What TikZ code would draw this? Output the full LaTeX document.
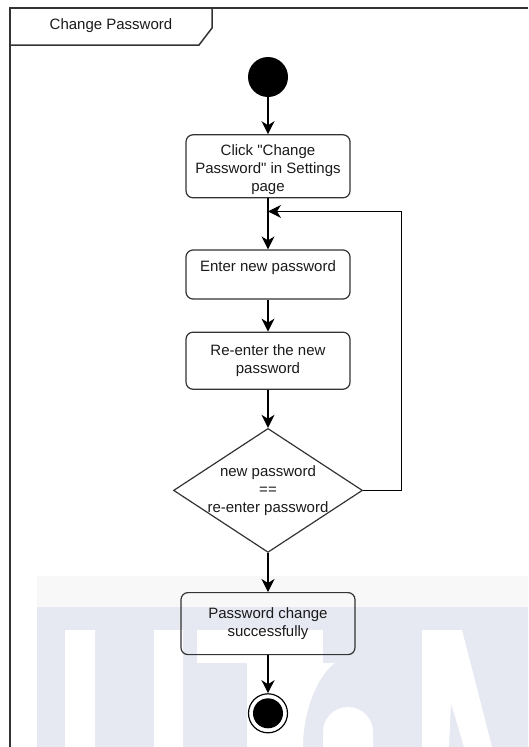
\documentclass[tikz,border=0pt]{standalone}
\usepackage{fontspec}
\setmainfont{Liberation Sans}
\usetikzlibrary{positioning,arrows.meta,shapes.geometric}
\definecolor{cline}{HTML}{333333}
\definecolor{ctext}{HTML}{1A1A1A}
\definecolor{wmband}{HTML}{F8F8F8}
\definecolor{wmblue}{HTML}{E6E9F2}
\newcommand{\flowfont}{\fontsize{15}{18}\selectfont}
\tikzset{
  actbox/.style={rounded corners=7pt, draw=cline, line width=1.2pt, align=center,
    minimum width=164pt, text=ctext, font=\flowfont},
  decide/.style={diamond, draw=cline, line width=1.2pt, minimum width=189pt,
    minimum height=124pt, inner sep=0pt},
  startdot/.style={circle, fill=black, minimum size=40pt, inner sep=0pt},
  enddot/.style={circle, draw=black, line width=1.2pt, fill=white, minimum size=39pt,
    inner sep=0pt, path picture={\fill[black] (path picture bounding box.center) circle (15pt);}},
  flowarrow/.style={-{Stealth[length=13pt,width=13pt,inset=4pt]}, line width=1.2pt, color=black},
  framestyle/.style={draw=cline, line width=1.5pt}
}
\begin{document}
\begin{tikzpicture}[x=1pt, y=-1pt]
    \useasboundingbox (0,0) rectangle (528,747);
    % watermark
    \fill[wmband] (37,576) rectangle (528,607);
    \fill[wmblue] (37,607) rectangle (528,747);
    \fill[white] (65,630) rectangle (95,747) (154,630) rectangle (183,747);
    \fill[white] (197,630) rectangle (323,663);
    \fill[white] (247,663) -- (335,663) .. controls (318,675) and (303,710) .. (303,747) -- (247,747) -- cycle;
    \fill[white] (323,747) -- (323,732) arc[start angle=180, end angle=360, x radius=25, y radius=25] -- (373,747) -- cycle;
    \fill[white] (422,630) -- (462,630) -- (492,747) -- (464,747) -- (451,703) -- (449,747) -- (422,747) -- cycle;

    % frame
    \draw[framestyle] (528,8) -- (10,8) -- (10,747);
    \draw[framestyle] (10,45) -- (199,45) -- (212,28) -- (212,8);
    \node[font=\flowfont, text=ctext] (title) at (111,26) {Change Password};

    \node[startdot] (start) at (268,77) {};
    \node[actbox, minimum height=63pt, below=37pt of start] (act1)
      {\raisebox{-3pt}[\height][\depth]{Click \textquotedbl Change}\\\raisebox{-3pt}[\height][\depth]{Password\textquotedbl{} in Settings}\\\raisebox{-3pt}[\height][\depth]{page}};
    \node[actbox, minimum height=49pt, below=51pt of act1] (act2) {\raisebox{7pt}[\height][\depth]{Enter new password}};
    \node[actbox, minimum height=57pt, below=32pt of act2] (act3) {Re-enter the new\\password};
    \node[decide, below=38pt of act3,
      label={[align=center, font=\flowfont, text=ctext]center:{new password\\==\\re-enter password}}] (cond) {};
    \node[actbox, minimum height=62pt, minimum width=174pt, below=39pt of cond] (act4) {Password change\\successfully};
    \node[enddot, below=38pt of act4] (stop) {};
    \coordinate[below=13pt of act1] (loopin);

    \draw[flowarrow] (start) -- (act1);
    \draw[flowarrow] (act1) -- (act2);
    \draw[flowarrow] (act2) -- (act3);
    \draw[flowarrow] (act3) -- (cond);
    \draw[flowarrow] (cond) -- (act4);
    \draw[flowarrow] (act4) -- (stop);
    \draw[flowarrow] (cond.east) -- ++(38,0) |- (loopin);
\end{tikzpicture}
\end{document}
